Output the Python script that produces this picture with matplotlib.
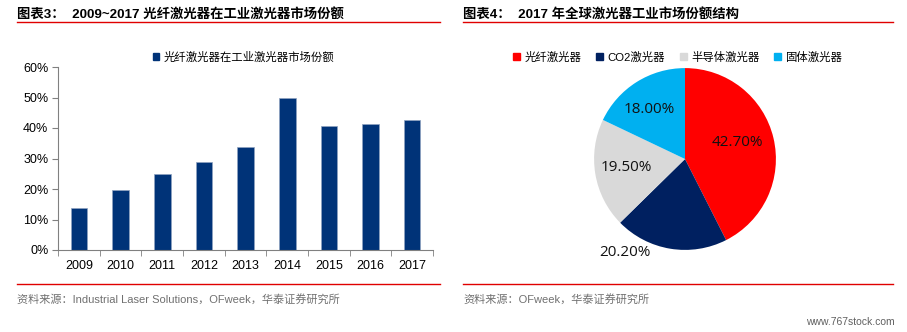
import matplotlib
matplotlib.use("Agg")
import matplotlib.pyplot as plt
from matplotlib.patches import Patch
from matplotlib.lines import Line2D
from matplotlib.ticker import PercentFormatter, FixedLocator

FONTS = ['Liberation Sans', 'Noto Sans CJK SC', 'DejaVu Sans']
plt.rcParams['font.family'] = FONTS

# left chart data
years = ['2009', '2010', '2011', '2012', '2013', '2014', '2015', '2016', '2017']
fiber_share = [13.7, 19.7, 25.0, 28.7, 33.8, 50.0, 40.7, 41.3, 42.7]
bar_label = '光纤激光器在工业激光器市场份额'

# right chart data
pie_names = ['光纤激光器', 'CO2激光器', '半导体激光器', '固体激光器']
pie_values = [42.7, 20.2, 19.5, 18.0]
pie_colors = ['#FF0000', '#002060', '#D9D9D9', '#00B0F0']

W, H = 907, 332
fig = plt.figure(figsize=(W / 100, H / 100), dpi=100)


def fx(px):
    return px / W


def fy(py):
    return 1 - py / H


# titles and rules
fig.text(fx(17), fy(14), '图表3：  2009~2017 光纤激光器在工业激光器市场份额',
         fontsize=9.6, fontweight='bold', va='center', ha='left')
fig.text(fx(463), fy(14), '图表4：  2017 年全球激光器工业市场份额结构',
         fontsize=9.6, fontweight='bold', va='center', ha='left')
for x0, x1 in [(17, 440), (463, 893)]:
    for yy in (22, 284):
        fig.add_artist(Line2D([fx(x0), fx(x1)], [fy(yy), fy(yy)], color='#E00000', lw=1.0))

fig.text(fx(17), fy(299), '资料来源：Industrial Laser Solutions，OFweek，华泰证券研究所',
         fontsize=8, color='#707070', va='center', ha='left')
fig.text(fx(463), fy(299), '资料来源：OFweek，华泰证券研究所',
         fontsize=8, color='#707070', va='center', ha='left')
fig.text(fx(895), fy(322), 'www.767stock.com', fontsize=7.5, color='#606060',
         va='center', ha='right')

# bar chart
ax = fig.add_axes([fx(58), fy(250), fx(433 - 58), (250 - 67) / H])
x = range(len(years))
ax.bar(x, fiber_share, width=0.4, color='#003378', edgecolor='#8FA3C0', linewidth=0.5)
ax.set_xlim(-0.5, len(years) - 0.5)
ax.set_ylim(0, 60)
ax.set_yticks(range(0, 61, 10))
ax.yaxis.set_major_formatter(PercentFormatter(decimals=0))
ax.set_xticks(list(x))
ax.set_xticklabels(years)
ax.xaxis.set_minor_locator(FixedLocator([i - 0.5 for i in range(len(years) + 1)]))
ax.tick_params(axis='x', which='major', length=0, pad=7, labelsize=9)
ax.tick_params(axis='x', which='minor', length=4, color='#808080', direction='out')
ax.tick_params(axis='y', length=4, color='#808080', labelsize=9, pad=3)
for s in ('top', 'right'):
    ax.spines[s].set_visible(False)
for s in ('left', 'bottom'):
    ax.spines[s].set_color('#808080')
ax.legend(handles=[Patch(color='#003378', label=bar_label)],
          loc='center', bbox_to_anchor=(0.495, (250 - 57) / (250 - 67)),
          frameon=False, fontsize=8.2, handlelength=0.6, handleheight=0.6,
          handletextpad=0.4, borderpad=0)

# pie chart
pax = fig.add_axes([fx(685 - 100), fy(159 + 100), fx(200), 200 / H])
wedges, _ = pax.pie(pie_values, colors=pie_colors, startangle=90, counterclock=False,
                    radius=1.0, wedgeprops=dict(linewidth=0))
pax.set_xlim(-1.1, 1.1)
pax.set_ylim(-1.1, 1.1)
pax.set_aspect('auto')
pax.axis('off')
label_pos = [(0.58, 0.18), (-0.66, -1.03), (-0.64, -0.09), (-0.39, 0.54)]
for v, (lx, ly) in zip(pie_values, label_pos):
    pax.text(lx, ly, f'{v:.2f}%', fontsize=11, ha='center', va='center',
             color='#111111', family=['Open Sans', 'DejaVu Sans'])

handles = [Patch(color=c, label=n) for c, n in zip(pie_colors, pie_names)]
fig.legend(handles=handles, loc='center', bbox_to_anchor=(fx(678), fy(57)),
           ncol=4, frameon=False, fontsize=8.2, handlelength=0.6, handleheight=0.6,
           handletextpad=0.4, columnspacing=1.3, borderpad=0)

fig.savefig('out.png', dpi=100)
